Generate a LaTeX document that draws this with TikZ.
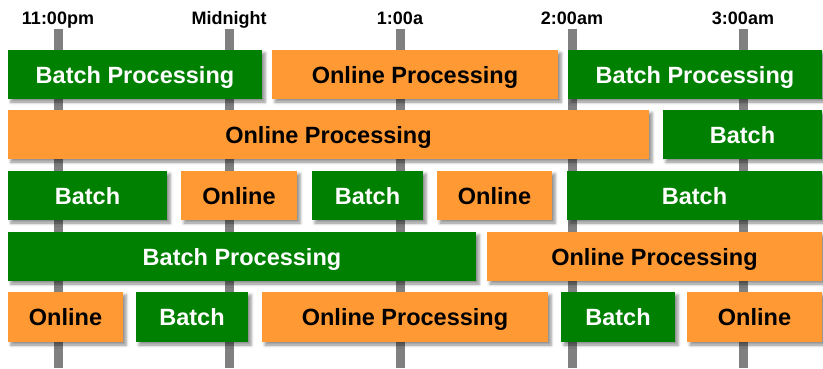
\documentclass[tikz,border=0pt]{standalone}
\usepackage{fontspec}
\setmainfont{Liberation Sans}
\usetikzlibrary{shadows.blur}

\definecolor{batchgreen}{RGB}{0,128,0}
\definecolor{onlineorange}{RGB}{255,153,51}
\definecolor{hourgray}{RGB}{128,128,128}

\tikzset{
  slot/.style={rectangle, inner sep=0pt, minimum height=49, text height=17pt, text depth=0pt,
    font=\fontsize{23.5}{25}\selectfont\bfseries,
    blur shadow={shadow xshift=3pt, shadow yshift=-3pt, shadow blur radius=3pt, shadow opacity=45}},
  batch/.style={slot, fill=batchgreen, text=white},
  online/.style={slot, fill=onlineorange, text=black},
  hour/.style={anchor=base, font=\fontsize{18}{20}\selectfont\bfseries}
}

\begin{document}
\begin{tikzpicture}[x=1pt,y=-1pt]

\useasboundingbox (0,0) rectangle (823,368);

% hour lines
\foreach \x/\t [count=\i] in {58/11:00pm, 229/Midnight, 400/1:00a, 572/2:00am, 743/3:00am}{
  \node[hour] (h\i) at (\x,24) {\t};
  \draw[hourgray, line width=9] (\x,29) -- (\x,368);
}

% row 1
\node[batch, minimum width=254] (r1a) at (135,74.5) {Batch Processing};
\node[online, minimum width=286] (r1b) at (415,74.5) {Online Processing};
\node[batch, minimum width=254] (r1c) at (695,74.5) {Batch Processing};

% row 2
\node[online, minimum width=641] (r2a) at (328.5,134.5) {Online Processing};
\node[batch, minimum width=159] (r2b) at (742.5,134.5) {Batch};

% row 3
\node[batch, minimum width=159] (r3a) at (87.5,195.5) {Batch};
\node[online, minimum width=116] (r3b) at (239,195.5) {Online};
\node[batch, minimum width=111] (r3c) at (367.5,195.5) {Batch};
\node[online, minimum width=115] (r3d) at (494.5,195.5) {Online};
\node[batch, minimum width=255] (r3e) at (694.5,195.5) {Batch};

% row 4
\node[batch, minimum width=468] (r4a) at (242,256.5) {Batch Processing};
\node[online, minimum width=335] (r4b) at (654.5,256.5) {Online Processing};

% row 5
\node[online, minimum width=115, minimum height=50] (r5a) at (65.5,317) {Online};
\node[batch, minimum width=112, minimum height=50] (r5b) at (192,317) {Batch};
\node[online, minimum width=286, minimum height=50] (r5c) at (405,317) {Online Processing};
\node[batch, minimum width=114, minimum height=50] (r5d) at (618,317) {Batch};
\node[online, minimum width=135, minimum height=50] (r5e) at (754.5,317) {Online};

\end{tikzpicture}
\end{document}
